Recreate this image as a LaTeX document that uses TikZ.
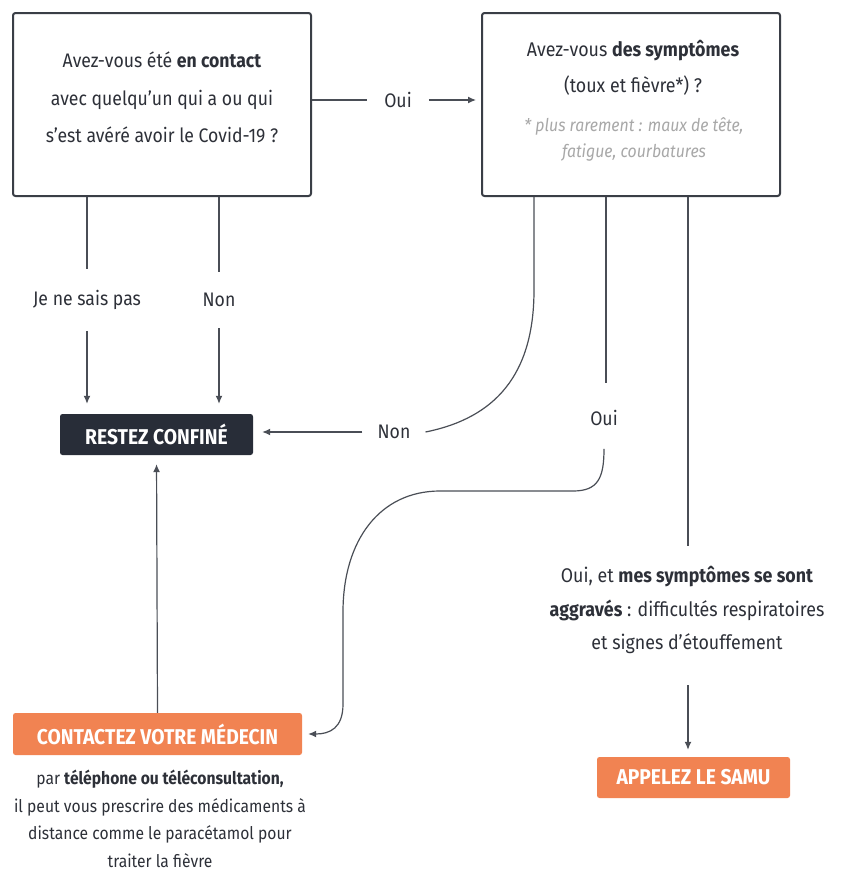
\documentclass[tikz,border=0pt]{standalone}
\usepackage{fontspec}
\setmainfont[FakeStretch=0.9]{Fira Sans}
\usetikzlibrary{arrows.meta}
\definecolor{ink}{HTML}{2D3038}
\definecolor{boxline}{HTML}{3A3E46}
\definecolor{conn}{HTML}{4A4E56}
\definecolor{darkfill}{HTML}{282D38}
\definecolor{orangefill}{HTML}{F18352}
\definecolor{note}{HTML}{A8A8A8}
\tikzset{
  qbox/.style={draw=boxline, line width=2pt, rounded corners=2.5pt, fill=white, inner sep=0pt},
  qtext/.style={text=ink, align=center, font=\fontsize{19.6}{37.5}\selectfont, inner sep=0pt},
  lbl/.style={text=ink, font=\fontsize{19.6}{22}\selectfont, inner xsep=0pt, inner ysep=0pt},
  actbox/.style={rounded corners=2.5pt, text=white, font=\bfseries\fontsize{21.4}{24}\selectfont, inner sep=0pt},
  conn/.style={draw=conn, line width=1.2pt},
  arr/.style={conn, -{Latex[length=8pt,width=7pt]}},
  body/.style={text=ink, align=center, inner sep=0pt},
}
\begin{document}
\begin{tikzpicture}[x=1pt,y=-1pt]
\useasboundingbox (0,0) rectangle (845,871);
% question boxes
\node[qbox, minimum width=298pt, minimum height=183pt] (q1) at (162,104.5) {};
\node[qtext] (q1t) at (162,97.5) {Avez-vous été \textbf{en contact}\\avec quelqu'un qui a ou qui\\s'est avéré avoir le Covid-19 ?};
\node[qbox, minimum width=298pt, minimum height=183pt] (q2) at (631,104.5) {};
\node[qtext, font=\fontsize{19.8}{36}\selectfont] (q2t) at (633,68) {Avez-vous \textbf{des symptômes}\\(toux et fièvre*) ?};
\node[text=note, align=center, font=\itshape\fontsize{17.6}{26}\selectfont, inner sep=0pt] (q2n) at (634,139) {* plus rarement : maux de tête,\\fatigue, courbatures};
% action boxes
\node[actbox, fill=darkfill, minimum width=193pt, minimum height=41pt] (restez) at (156.5,434.5) {RESTEZ CONFINÉ};
\node[actbox, fill=orangefill, minimum width=289pt, minimum height=42pt] (medecin) at (157.5,734) {CONTACTEZ VOTRE MÉDECIN};
\node[actbox, fill=orangefill, minimum width=193pt, minimum height=41pt] (samu) at (693.5,777.5) {APPELEZ LE SAMU};
% body texts
\node[body, font=\fontsize{17.4}{27.5}\selectfont] (medt) at (160,819) {par \textbf{téléphone ou téléconsultation,}\\il peut vous prescrire des médicaments à\\distance comme le paracétamol pour\\traiter la fièvre};
\node[body, font=\fontsize{19.8}{33.5}\selectfont, inner ysep=20pt] (aggr) at (687,610) {Oui, et \textbf{mes symptômes se sont}\\\textbf{aggravés} : difficultés respiratoires\\et signes d'étouffement};
% labels
\node[lbl, inner xsep=17pt] (oui1) at (398,100) {Oui};
\node[lbl, inner ysep=21pt] (jn) at (87,300) {Je ne sais pas};
\node[lbl, inner ysep=21pt] (non1) at (219,300) {Non};
\node[lbl, inner xsep=15pt] (non2) at (394,432) {Non};
\node[lbl, inner ysep=23pt] (oui2) at (604,418) {Oui};
% helper coordinates
\coordinate (c1) at (534,290);
\coordinate (m1) at (573,491);
\coordinate (m2) at (440,491);
\coordinate (m3) at (343,612);
\coordinate (m4) at (343,704);
\coordinate (s1) at (688,685);
% connectors
\draw[conn] (q1.east |- oui1.west) -- (oui1.west);
\draw[arr, shorten >=5pt] (oui1.east) -- (q2.west |- oui1.east);
\draw[conn] (q1.south -| jn.north) -- (jn.north);
\draw[arr, shorten >=10pt] (jn.south) -- (restez.north -| jn.south);
\draw[conn] (q1.south -| non1.north) -- (non1.north);
\draw[arr, shorten >=10pt] (non1.south) -- (restez.north -| non1.south);
\draw[conn] (q2.south -| c1) -- (c1) .. controls (534,375) and (495,418) .. (non2.east);
\draw[arr, shorten >=9pt] (non2.west) -- (restez.east |- non2.west);
\draw[conn] (q2.south -| 606,0) -- (606,383);
\draw[arr, shorten >=6pt] (oui2.south) .. controls (604,478) and (598,491) .. (m1) -- (m2) .. controls (380,491) and (343,540) .. (m3) -- (m4) .. controls (343,728) and (330,734) .. (medecin.east);
\draw[conn] (q2.south -| s1) -- (aggr.north -| s1);
\draw[arr, shorten >=7pt] (s1) -- (samu.north -| s1);
\draw[arr, shorten >=9pt] (medecin.north) -- (restez.south);
\end{tikzpicture}
\end{document}
